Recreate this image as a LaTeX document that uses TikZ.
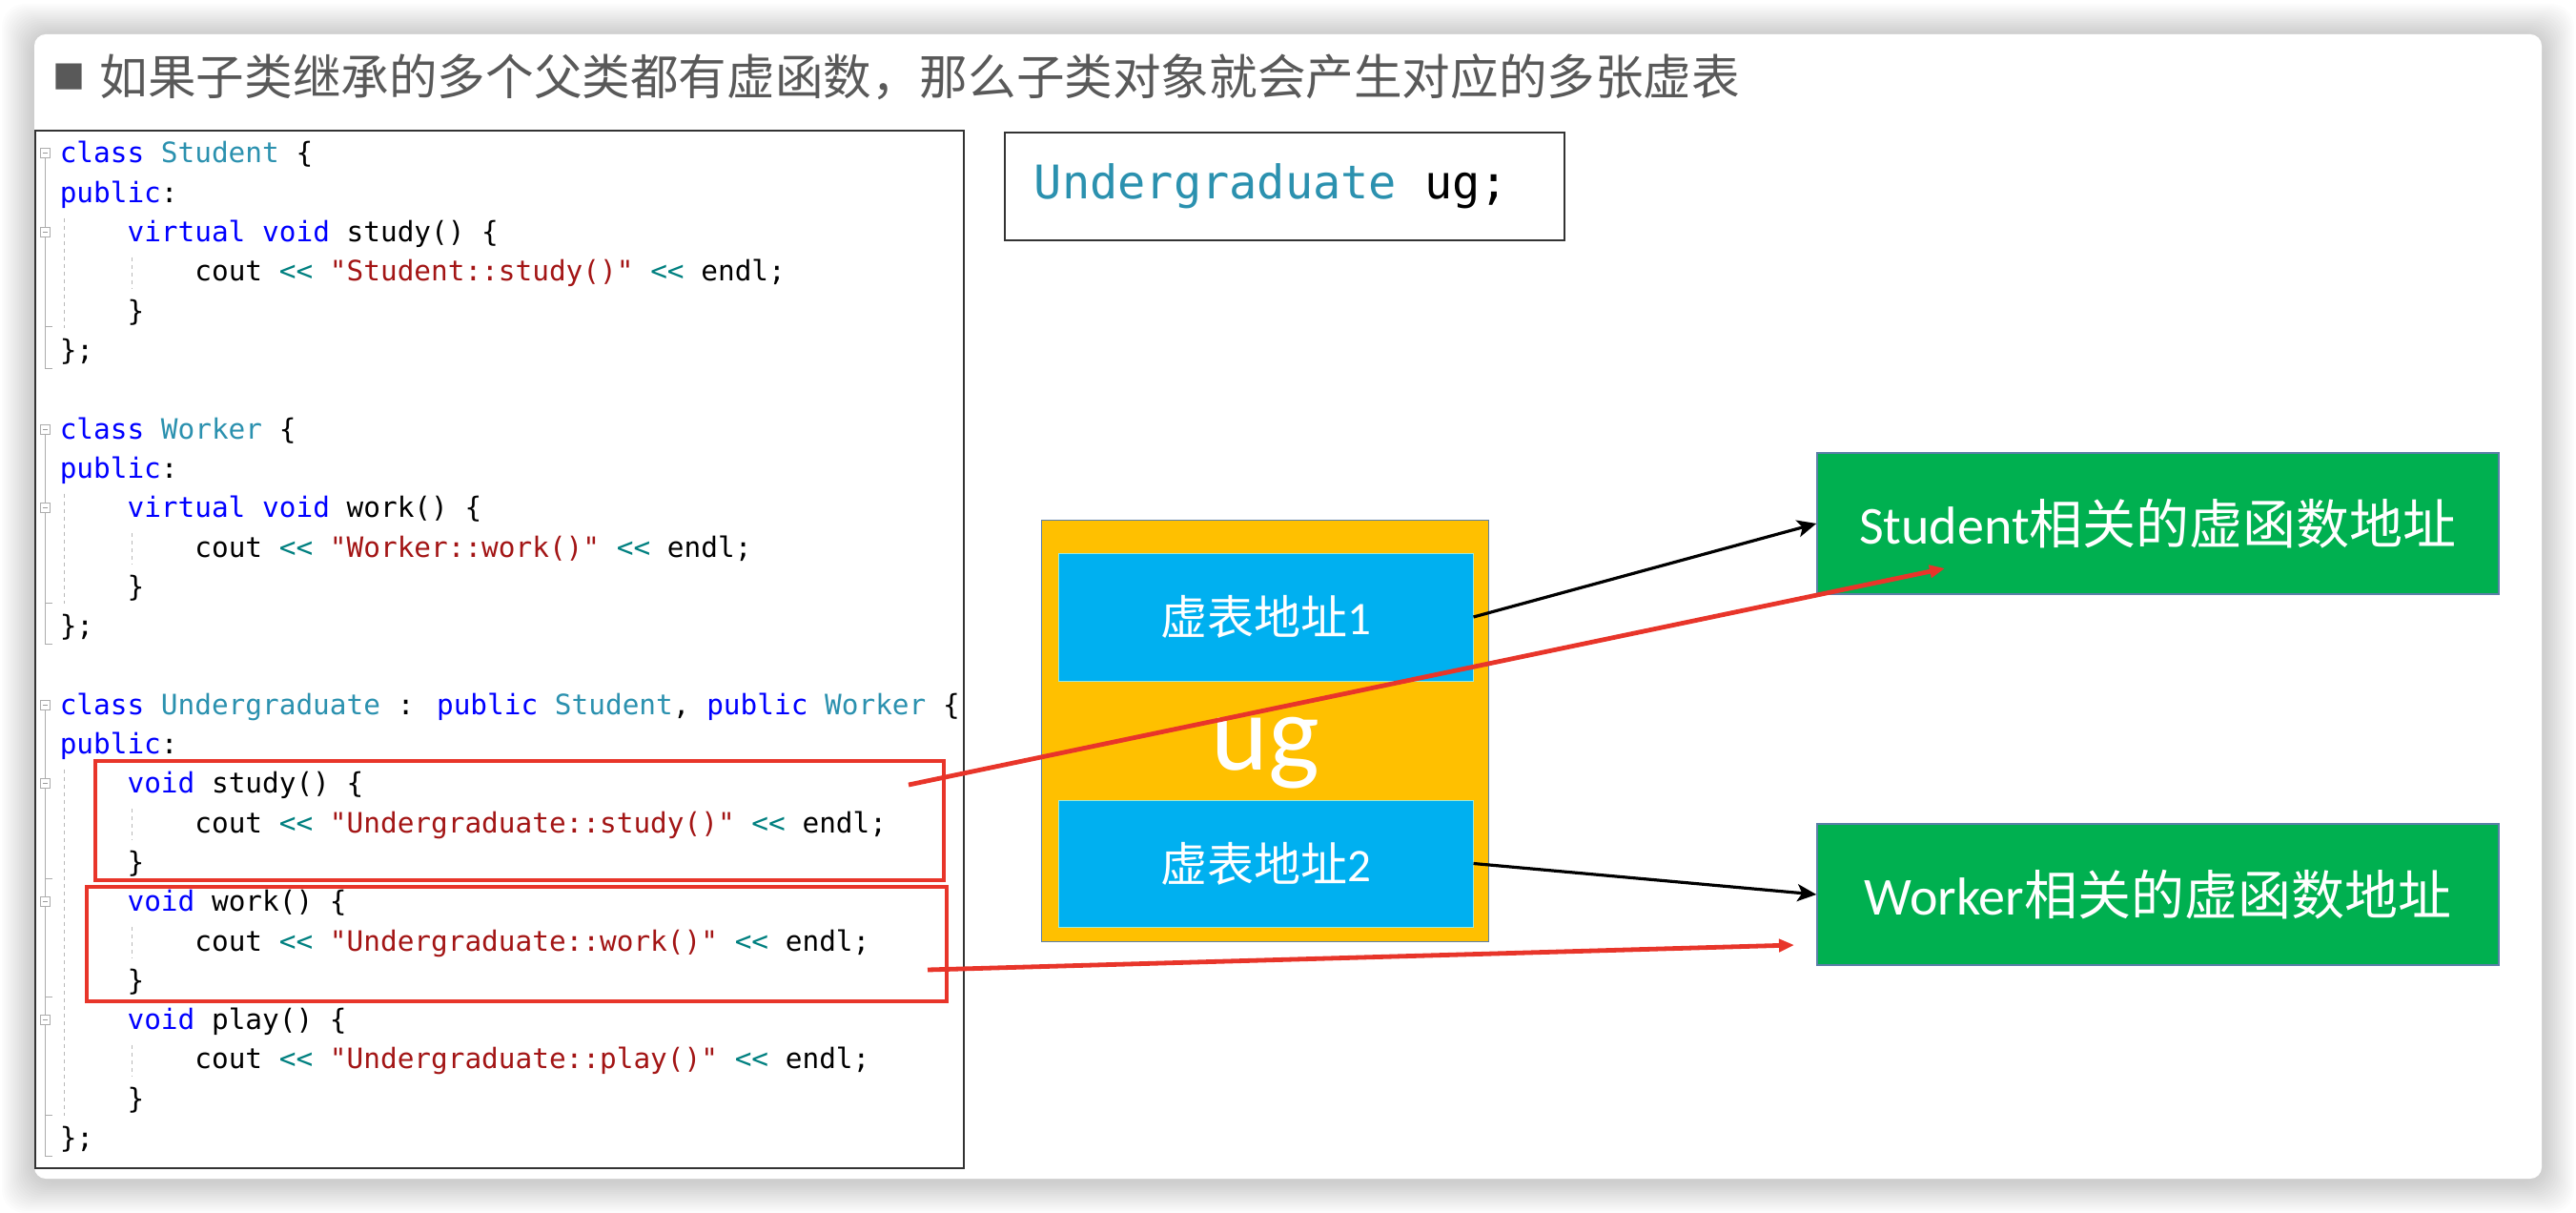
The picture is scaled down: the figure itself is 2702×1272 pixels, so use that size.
\documentclass[tikz,border=0pt]{standalone}
\usepackage{fontspec}
\setmainfont{Carlito}
\newfontfamily\cjk{Noto Sans CJK SC}
\newfontfamily\codefont{DejaVu Sans Mono}
\usetikzlibrary{arrows.meta}

\definecolor{kwblue}{HTML}{0000FF}
\definecolor{tyteal}{HTML}{2B91AF}
\definecolor{strred}{HTML}{A31515}
\definecolor{opteal}{HTML}{008080}
\definecolor{ugyellow}{HTML}{FFC000}
\definecolor{vtblue}{HTML}{00B0F0}
\definecolor{fngreen}{HTML}{00B050}
\definecolor{boxedge}{HTML}{5B7FA8}
\definecolor{markred}{HTML}{E8352A}
\definecolor{titlegray}{HTML}{595959}

% code colouring
\newcommand{\ckw}[1]{\textcolor{kwblue}{#1}}
\newcommand{\cty}[1]{\textcolor{tyteal}{#1}}
\newcommand{\cstr}[1]{\textcolor{strred}{#1}}
\newcommand{\cop}{\textcolor{opteal}{<{}<}}

\tikzset{every picture/.style={line width=0.75pt}}
\tikzset{
  codeline/.style={anchor=base west, inner sep=0pt, font=\codefont\fontsize{14.7}{18}\selectfont},
  outline/.style={draw=gray!65, line width=0.5pt},
  indentguide/.style={draw=gray!55, line width=0.5pt, dash pattern={on 2pt off 2pt}},
  markbox/.style={draw=markred, line width=2.4pt, inner sep=0pt},
  vtbox/.style={fill=vtblue, draw=vtblue!70!green!40, line width=0.5pt, inner sep=0pt,
    minimum width=217.5pt, text=white, font=\cjk\fontsize{24.5}{28}\selectfont},
  fnbox/.style={fill=fngreen, draw=boxedge, line width=0.75pt, inner sep=0pt,
    minimum width=357.5pt, minimum height=74pt, text=white, font=\fontsize{28}{34}\selectfont},
  ptrarrow/.style={draw=black, line width=1.6pt, -{Stealth[length=10pt,width=9pt,inset=2.5pt]}},
  hitarrow/.style={draw=markred, line width=2.4pt, -{Triangle[length=8pt,width=6.5pt]}}
}

\begin{document}
\begin{tikzpicture}[x=0.5pt,y=0.5pt,yscale=-1,xscale=1]
\useasboundingbox (0,0) rectangle (2702,1272);

%Shape: card shadow
\foreach \r in {2,4,...,34}
  \fill[black, opacity=0.011, rounded corners=12pt] ({36-\r},{38-\r}) rectangle ({2666+\r},{1238+\r});
%Shape: card
\fill[white, rounded corners=6pt] (36,36) rectangle (2666,1236);

% Title
\node[inner sep=0pt, text=titlegray, font=\cjk\fontsize{17}{20}\selectfont] (bullet) at (72,81) {■};
\node[anchor=west, inner sep=0pt, text=titlegray, font=\cjk\fontsize{25.3}{30}\selectfont] (title) at (104,81) {如果子类继承的多个父类都有虚函数，那么子类对象就会产生对应的多张虚表};

%Shape: code frame
\draw[draw=black!80, line width=1pt] (37,137) rectangle (1011,1225);

%Outlining margin
\draw[outline] (47,166) -- (47,386.5) -- (55,386.5);
\draw[outline] (47,248.6) -- (47,343) -- (55,343);
\draw[outline] (47,455.1) -- (47,675.6) -- (55,675.6);
\draw[outline] (47,537.7) -- (47,632.3) -- (55,632.3);
\draw[outline] (47,744.2) -- (47,1212.5) -- (55,1212.5);
\draw[outline] (47,826.8) -- (47,921.4) -- (55,921.4);
\draw[outline] (47,950.7) -- (47,1045.3) -- (55,1045.3);
\draw[outline] (47,1074.6) -- (47,1169.2) -- (55,1169.2);
\foreach \y in {161,243.6,450.1,532.7,739.2,821.8,945.7,1069.6}{
  \draw[outline, fill=white] (42,{\y-5}) rectangle (52,{\y+5});
  \draw[draw=gray!80, line width=0.5pt] (44.5,\y) -- (49.5,\y);
}
%Indent guides
\draw[indentguide] (67,228.6) -- (67,344);
\draw[indentguide] (67,517.7) -- (67,633.3);
\draw[indentguide] (67,806.8) -- (67,1170.2);
\foreach \y in {294.9,584.0,873.1,997.0,1120.9}
  \draw[indentguide] (138,{\y-25}) -- (138,{\y+8});

% Code lines
\node[codeline] (l1) at (62,171) {\ckw{class} \cty{Student} \{};
\node[codeline] (l2) at (62,212.3) {\ckw{public}:};
\node[codeline] (l3) at (132.8,253.6) {\ckw{virtual} \ckw{void} study() \{};
\node[codeline] (l4) at (203.6,294.9) {cout \cop{} \cstr{"Student::study()"} \cop{} endl;};
\node[codeline] (l5) at (132.8,336.2) {\}};
\node[codeline] (l6) at (62,377.5) {\};};
\node[codeline] (l8) at (62,460.1) {\ckw{class} \cty{Worker} \{};
\node[codeline] (l9) at (62,501.4) {\ckw{public}:};
\node[codeline] (l10) at (132.8,542.7) {\ckw{virtual} \ckw{void} work() \{};
\node[codeline] (l11) at (203.6,584.0) {cout \cop{} \cstr{"Worker::work()"} \cop{} endl;};
\node[codeline] (l12) at (132.8,625.3) {\}};
\node[codeline] (l13) at (62,666.6) {\};};
\node[codeline] (l15) at (62,749.2) {\ckw{class} \cty{Undergraduate} : \ckw{public} \cty{Student}, \ckw{public} \cty{Worker} \{};
\node[codeline] (l16) at (62,790.5) {\ckw{public}:};
\node[codeline] (l17) at (132.8,831.8) {\ckw{void} study() \{};
\node[codeline] (l18) at (203.6,873.1) {cout \cop{} \cstr{"Undergraduate::study()"} \cop{} endl;};
\node[codeline] (l19) at (132.8,914.4) {\}};
\node[codeline] (l20) at (132.8,955.7) {\ckw{void} work() \{};
\node[codeline] (l21) at (203.6,997.0) {cout \cop{} \cstr{"Undergraduate::work()"} \cop{} endl;};
\node[codeline] (l22) at (132.8,1038.3) {\}};
\node[codeline] (l23) at (132.8,1079.6) {\ckw{void} play() \{};
\node[codeline] (l24) at (203.6,1120.9) {cout \cop{} \cstr{"Undergraduate::play()"} \cop{} endl;};
\node[codeline] (l25) at (132.8,1162.2) {\}};
\node[codeline] (l26) at (62,1203.5) {\};};

% Red marks on the overriding functions
\node[markbox, minimum width=445pt, minimum height=62.5pt] (studymark) at (545,860.5) {};
\node[markbox, minimum width=451pt, minimum height=60pt] (workmark) at (542,990) {};

% Declaration
\node[draw=black!80, line width=1pt, anchor=north west, inner sep=0pt,
  minimum width=293.5pt, minimum height=56.5pt,
  font=\codefont\fontsize{24.3}{28}\selectfont] (decl) at (1053,138) {\cty{Undergraduate} ug;\kern14pt};

% Object layout
\node[fill=ugyellow, draw=boxedge, line width=0.75pt, inner sep=0pt,
  minimum width=234.5pt, minimum height=221pt] (ugobj) at (1327,766.5) {};
\node[vtbox, minimum height=67pt] (vt1) at (1327.5,647) {虚表地址{\rmfamily 1}};
\node[vtbox, minimum height=66.5pt] (vt2) at (1327.5,905.5) {虚表地址{\rmfamily 2}};
\node[anchor=base, inner sep=0pt, text=white, font=\fontsize{57}{60}\selectfont] (uglabel) at (1327,807) {ug};

% Virtual function tables
\node[fnbox] (stu) at (2263.5,549) {Student{\cjk 相关的虚函数地址}};
\node[fnbox] (wrk) at (2263.5,938) {Worker{\cjk 相关的虚函数地址}};

% Pointers
\draw[ptrarrow] (vt1.east) -- (stu.west);
\draw[ptrarrow] (vt2.east) -- (wrk.west);

% Red connectors
\coordinate (studyfrom) at (953,823);
\coordinate (workfrom) at (973,1017);
\coordinate (stuhit) at (2040,596);
\coordinate (wrkhit) at (1882,991);
\draw[hitarrow] (studyfrom) -- (stuhit);
\draw[hitarrow] (workfrom) -- (wrkhit);

\end{tikzpicture}
\end{document}
